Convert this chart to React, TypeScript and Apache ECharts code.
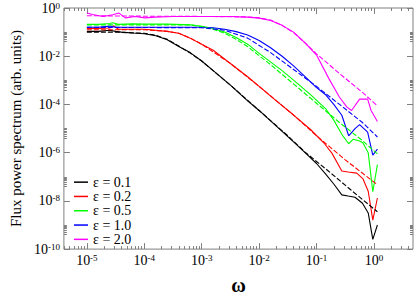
import React, { useEffect, useRef } from "react";
import * as echarts from "echarts";

// ---- data (log10 ω, log10 power) ----
const legendNames = ["ε = 0.1", "ε = 0.2", "ε = 0.5", "ε = 1.0", "ε = 2.0"];
const seriesColors = ["#000000", "#ff0000", "#00ff00", "#0000ff", "#ff00ff"];

const blackLogW = [-5.0, -4.8, -4.6, -4.5, -4.4, -4.2, -4.0, -3.8, -3.6, -3.4, -3.2, -3.0, -2.8, -2.5, -2.2, -2.0, -1.7, -1.4, -1.2, -1.0, -0.84, -0.7, -0.56, -0.45, -0.33, -0.2, -0.1, -0.02, 0.06];
const blackLogP = [-0.97, -0.97, -0.92, -0.97, -1.0, -1.04, -1.07, -1.15, -1.32, -1.6, -1.85, -2.2, -2.6, -3.2, -3.85, -4.25, -4.9, -5.55, -6.0, -6.45, -6.89, -7.3, -7.75, -7.8, -7.85, -8.1, -8.5, -9.6, -9.0];
const blackFitLogW = [-5.0, -4.5, -4.0, -3.8, -3.6, -3.4, -3.2, -3.0, -2.5, -2.0, -1.5, -1.2, -0.8, -0.4, 0.06];
const blackFitLogP = [-1.0, -1.0, -1.05, -1.13, -1.3, -1.58, -1.87, -2.2, -3.2, -4.25, -5.3, -5.98, -6.75, -7.55, -8.45];

const redLogW = [-5.0, -4.8, -4.6, -4.53, -4.45, -4.2, -4.0, -3.85, -3.6, -3.4, -3.2, -3.0, -2.8, -2.5, -2.2, -2.0, -1.7, -1.4, -1.1, -0.87, -0.73, -0.56, -0.45, -0.3, -0.19, -0.1, -0.02, 0.06];
const redLogP = [-0.85, -0.85, -0.83, -0.74, -0.88, -0.88, -0.88, -0.91, -0.97, -1.05, -1.25, -1.5, -1.75, -2.3, -2.85, -3.25, -3.85, -4.44, -5.05, -5.6, -6.03, -6.76, -6.8, -6.85, -7.09, -7.6, -8.8, -7.88];
const redFitLogW = [-5.0, -4.0, -3.6, -3.4, -3.2, -3.0, -2.5, -2.0, -1.4, -1.0, -0.5, 0.06];
const redFitLogP = [-0.9, -0.9, -0.97, -1.05, -1.25, -1.5, -2.3, -3.25, -4.44, -5.3, -6.3, -7.33];

const greenLogW = [-5.0, -4.8, -4.6, -4.55, -4.45, -4.2, -4.0, -3.6, -3.2, -3.0, -2.8, -2.6, -2.4, -2.2, -2.0, -1.9, -1.6, -1.4, -1.1, -0.84, -0.7, -0.56, -0.44, -0.36, -0.25, -0.19, -0.1, -0.02, 0.06];
const greenLogP = [-0.68, -0.68, -0.64, -0.61, -0.68, -0.66, -0.67, -0.67, -0.7, -0.76, -0.85, -1.0, -1.22, -1.5, -1.88, -2.06, -2.6, -2.99, -3.6, -4.18, -4.65, -5.24, -5.63, -5.44, -5.52, -5.6, -6.0, -7.62, -6.5];
const greenFitLogW = [-5.0, -3.2, -3.0, -2.8, -2.6, -2.4, -2.2, -2.0, -1.8, -1.4, -1.0, -0.6, -0.2, 0.06];
const greenFitLogP = [-0.7, -0.7, -0.77, -0.88, -1.05, -1.3, -1.6, -1.98, -2.35, -3.15, -3.95, -4.75, -5.5, -6.05];

const blueLogW = [-5.0, -4.8, -4.6, -4.5, -4.3, -4.0, -3.5, -3.0, -2.8, -2.6, -2.4, -2.2, -2.0, -1.8, -1.6, -1.4, -1.2, -1.0, -0.84, -0.7, -0.56, -0.44, -0.33, -0.25, -0.11, -0.02, 0.06];
const blueLogP = [-0.8, -0.8, -0.75, -0.8, -0.8, -0.8, -0.8, -0.8, -0.82, -0.88, -0.98, -1.12, -1.35, -1.65, -2.0, -2.4, -2.85, -3.3, -3.6, -4.0, -4.45, -5.3, -5.0, -4.84, -5.15, -6.1, -5.85];
const blueFitLogW = [-5.0, -3.0, -2.6, -2.2, -1.8, -1.4, -1.0, -0.6, -0.2, 0.06];
const blueFitLogP = [-0.8, -0.82, -0.92, -1.25, -1.85, -2.55, -3.25, -4.0, -4.75, -5.35];

const magentaLogW = [-5.0, -4.9, -4.72, -4.55, -4.44, -4.33, -4.16, -3.99, -3.82, -3.5, -3.0, -2.5, -2.2, -2.0, -1.8, -1.6, -1.4, -1.2, -1.0, -0.78, -0.6, -0.47, -0.39, -0.25, -0.11, -0.05, 0.06];
const magentaLogP = [-0.21, -0.27, -0.35, -0.28, -0.21, -0.41, -0.35, -0.41, -0.38, -0.35, -0.35, -0.35, -0.38, -0.42, -0.52, -0.72, -1.0, -1.45, -1.95, -2.95, -3.7, -4.11, -4.25, -3.78, -3.78, -4.25, -4.71];
const magentaFitLogW = [-5.0, -4.5, -4.0, -3.0, -2.2, -2.0, -1.8, -1.6, -1.4, -1.2, -1.0, -0.6, -0.2, 0.06];
const magentaFitLogP = [-0.32, -0.33, -0.34, -0.35, -0.37, -0.41, -0.5, -0.72, -1.02, -1.45, -1.9, -2.72, -3.5, -4.06];

// ---- ticks (log10 positions) ----
const xMajorTicks = [-5, -4, -3, -2, -1, 0];
const xMinorFactors = [2, 3, 4, 5, 6, 7, 8, 9];
const xDecades = [-6, -5, -4, -3, -2, -1, 0];
const yMajorTicks = [-10, -8, -6, -4, -2, 0];
const yMinorFactors = [4, 5, 6, 7, 8, 9, 10];
const yMinorDecades = [-10, -8, -6, -4, -2];

const X_MIN = -5.4;
const X_MAX = 0.68;
const Y_MIN = -10;
const Y_MAX = 0;

const SERIF = "'Liberation Serif', 'Times New Roman', serif";
const FRAME = "#808080";

const pairs = (xs: number[], ys: number[]) => xs.map((x, i) => [x, ys[i]]);

export default function App() {
  const ref = useRef<HTMLDivElement>(null);

  useEffect(() => {
    if (!ref.current) return;
    const chart = echarts.init(ref.current, null, { renderer: "svg" });

    const xMinor: number[] = [];
    xDecades.forEach((d) =>
      xMinorFactors.forEach((k) => {
        const v = d + Math.log10(k);
        if (v > X_MIN && v < X_MAX) xMinor.push(v);
      })
    );
    const yMinor: number[] = [];
    yMinorDecades.forEach((d) =>
      yMinorFactors.forEach((k) => yMinor.push(d + Math.log10(k)))
    );

    const rich = {
      b: { fontFamily: SERIF, fontSize: 14, color: "#000", lineHeight: 14, verticalAlign: "bottom" },
      s: { fontFamily: SERIF, fontSize: 9, color: "#000", lineHeight: 10, padding: [0, 0, 8, 0], verticalAlign: "top" },
    };
    const fmt = (v: number) => `{b|10}{s|${Math.round(v)}}`;

    const mkAxis = (
      position: string,
      min: number,
      max: number,
      ticks: number[],
      len: number,
      labels: number[] | null,
      extra: any = {}
    ) => ({
      type: "value",
      position,
      min,
      max,
      axisLine: { show: false, onZero: false },
      splitLine: { show: false },
      axisTick: {
        show: true,
        inside: true,
        length: len,
        customValues: ticks,
        lineStyle: { color: FRAME, width: 1 },
      },
      axisLabel: labels
        ? { show: true, customValues: labels, formatter: fmt, rich, margin: 4 }
        : { show: false },
      ...extra,
    });

    const solid = [
      pairs(blackLogW, blackLogP),
      pairs(redLogW, redLogP),
      pairs(greenLogW, greenLogP),
      pairs(blueLogW, blueLogP),
      pairs(magentaLogW, magentaLogP),
    ];
    const fits = [
      pairs(blackFitLogW, blackFitLogP),
      pairs(redFitLogW, redFitLogP),
      pairs(greenFitLogW, greenFitLogP),
      pairs(blueFitLogW, blueFitLogP),
      pairs(magentaFitLogW, magentaFitLogP),
    ];

    const series: any[] = [];
    solid.forEach((d, i) => {
      series.push({
        type: "line",
        name: legendNames[i],
        data: d,
        symbol: "none",
        showSymbol: false,
        xAxisIndex: 0,
        yAxisIndex: 0,
        lineStyle: { color: seriesColors[i], width: 1.1 },
        itemStyle: { color: seriesColors[i] },
      });
    });
    fits.forEach((d, i) => {
      series.push({
        type: "line",
        name: legendNames[i] + " fit",
        data: d,
        symbol: "none",
        showSymbol: false,
        xAxisIndex: 0,
        yAxisIndex: 0,
        lineStyle: { color: seriesColors[i], width: 1.1, type: [5, 2] },
        itemStyle: { color: seriesColors[i] },
      });
    });

    chart.setOption({
      animation: false,
      backgroundColor: "#ffffff",
      grid: {
        left: 53,
        right: 2,
        top: 8,
        bottom: 40,
        show: true,
        borderColor: FRAME,
        borderWidth: 1,
        backgroundColor: "transparent",
      },
      legend: {
        data: legendNames,
        orient: "vertical",
        left: 74,
        top: 175,
        icon: "rect",
        itemWidth: 14,
        itemHeight: 1.5,
        itemGap: 0,
        padding: 0,
        textStyle: { fontFamily: SERIF, fontSize: 14, lineHeight: 14.3, color: "#000" },
      },
      xAxis: [
        mkAxis("bottom", X_MIN, X_MAX, xMajorTicks, 6, xMajorTicks, {
          name: "ω",
          nameLocation: "middle",
          nameGap: 12,
          nameTextStyle: { fontFamily: SERIF, fontSize: 20, fontWeight: "bold", color: "#000" },
        }),
        mkAxis("bottom", X_MIN, X_MAX, xMinor, 3, null),
        mkAxis("top", X_MIN, X_MAX, xMajorTicks, 6, null),
        mkAxis("top", X_MIN, X_MAX, xMinor, 3, null),
      ],
      yAxis: [
        mkAxis("left", Y_MIN, Y_MAX, yMajorTicks, 6, yMajorTicks, {
          name: "Flux power spectrum (arb. units)",
          nameLocation: "middle",
          nameGap: 39,
          nameTextStyle: { fontFamily: SERIF, fontSize: 15, color: "#000" },
        }),
        mkAxis("left", Y_MIN, Y_MAX, yMinor, 3, null),
        mkAxis("right", Y_MIN, Y_MAX, yMajorTicks, 6, null),
        mkAxis("right", Y_MIN, Y_MAX, yMinor, 3, null),
      ],
      series,
    });

    return () => chart.dispose();
  }, []);

  return (
    <div
      ref={ref}
      style={{ position: "fixed", left: 0, top: 0, width: 415, height: 300 }}
    />
  );
}
